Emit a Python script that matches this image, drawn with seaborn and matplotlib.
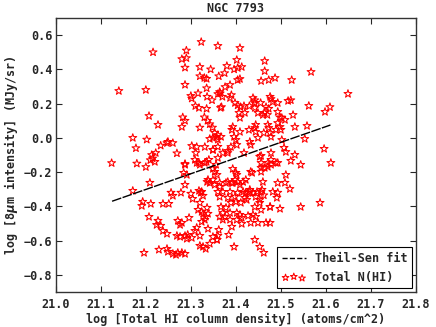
import numpy as np
import pandas as pd
import matplotlib
matplotlib.use('Agg')
import matplotlib.pyplot as plt
import seaborn as sns
from matplotlib.lines import Line2D

# log total HI column density (x) and log 8um intensity (y)
nhi = [
    21.140, 21.216, 21.200, 21.207, 21.227, 21.171, 21.202, 21.178, 21.213, 21.215,
    21.210, 21.233, 21.247, 21.260, 21.269, 21.124, 21.180, 21.200, 21.220, 21.323,
    21.290, 21.280, 21.290, 21.287, 21.287, 21.320, 21.344, 21.360, 21.320, 21.330,
    21.335, 21.300, 21.316, 21.302, 21.335, 21.336, 21.347, 21.360, 21.310, 21.318,
    21.335, 21.320, 21.282, 21.287, 21.280, 21.330, 21.337, 21.342, 21.348, 21.353,
    21.357, 21.360, 21.302, 21.313, 21.311, 21.309, 21.318, 21.335, 21.349, 21.360,
    21.287, 21.409, 21.402, 21.380, 21.396, 21.404, 21.413, 21.375, 21.362, 21.404,
    21.409, 21.464, 21.464, 21.456, 21.473, 21.487, 21.524, 21.567, 21.649, 21.365,
    21.370, 21.387, 21.390, 21.368, 21.366, 21.398, 21.404, 21.410, 21.418, 21.430,
    21.438, 21.442, 21.442, 21.455, 21.467, 21.476, 21.478, 21.482, 21.493, 21.516,
    21.522, 21.562, 21.598, 21.609, 21.407, 21.409, 21.420, 21.464, 21.473, 21.470,
    21.493, 21.498, 21.502, 21.509, 21.527, 21.393, 21.396, 21.409, 21.429, 21.444,
    21.444, 21.471, 21.473, 21.476, 21.478, 21.489, 21.493, 21.498, 21.500, 21.531,
    21.558, 21.360, 21.367, 21.389, 21.382, 21.371, 21.360, 21.431, 21.433, 21.418,
    21.456, 21.478, 21.478, 21.489, 21.502, 21.507, 21.511, 21.531, 21.544, 21.553,
    21.596, 21.611, 21.456, 21.471, 21.478, 21.493, 21.522, 21.433, 21.456, 21.511,
    21.493, 21.509, 21.520, 21.482, 21.493, 21.491, 21.456, 21.453, 21.444, 21.438,
    21.431, 21.587, 21.544, 21.498, 21.476, 21.456, 21.442, 21.438, 21.427, 21.433,
    21.409, 21.402, 21.413, 21.402, 21.387, 21.391, 21.384, 21.362, 21.358, 21.467,
    21.442, 21.453, 21.462, 21.396, 21.371, 21.376, 21.371, 21.378, 21.367, 21.387,
    21.364, 21.371, 21.378, 21.387, 21.393, 21.404, 21.416, 21.404, 21.416, 21.422,
    21.398, 21.382, 21.389, 21.400, 21.411, 21.424, 21.287, 21.291, 21.284, 21.313,
    21.320, 21.331, 21.340, 21.356, 21.209, 21.171, 21.287, 21.256, 21.260, 21.278,
    21.300, 21.304, 21.318, 21.322, 21.327, 21.336, 21.342, 21.349, 21.353, 21.360,
    21.364, 21.193, 21.191, 21.211, 21.238, 21.251, 21.320, 21.316, 21.324, 21.327,
    21.336, 21.338, 21.331, 21.207, 21.227, 21.224, 21.233, 21.238, 21.247, 21.271,
    21.280, 21.296, 21.276, 21.313, 21.309, 21.302, 21.293, 21.269, 21.276, 21.287,
    21.291, 21.320, 21.338, 21.349, 21.360, 21.196, 21.229, 21.247, 21.249, 21.260,
    21.267, 21.271, 21.280, 21.287, 21.320, 21.327, 21.333, 21.342, 21.358, 21.387,
    21.376, 21.364, 21.442, 21.449, 21.460, 21.391, 21.442, 21.462, 21.331, 21.349,
    21.382, 21.402, 21.400, 21.449, 21.453, 21.349, 21.342, 21.364, 21.382, 21.391,
    21.398, 21.409, 21.402, 21.393, 21.400, 21.422, 21.436, 21.456, 21.464, 21.471,
    21.460, 21.458, 21.447, 21.431, 21.427, 21.420, 21.453, 21.462, 21.476, 21.476,
    21.449, 21.444, 21.413, 21.324, 21.333, 21.324, 21.364, 21.349, 21.353, 21.358,
    21.338, 21.249, 21.222,
]
i8 = [
    0.274, 0.500, 0.280, 0.128, 0.076, 0.000, -0.010, -0.060, -0.100, -0.120,
    -0.130, -0.045, -0.030, -0.030, -0.090, -0.147, -0.150, -0.170, -0.140, 0.560,
    0.510, 0.460, 0.466, 0.410, 0.310, 0.414, 0.400, 0.537, 0.360, 0.350,
    0.345, 0.245, 0.260, 0.230, 0.290, 0.240, 0.220, 0.256, 0.186, 0.175,
    0.170, 0.060, 0.120, 0.100, 0.064, 0.120, 0.100, 0.080, 0.060, 0.030,
    0.005, -0.010, -0.047, -0.053, -0.088, -0.128, -0.146, -0.140, -0.070, -0.052,
    -0.152, 0.525, 0.455, 0.420, 0.400, 0.408, 0.414, 0.378, 0.360, 0.338,
    0.344, 0.449, 0.390, 0.332, 0.338, 0.350, 0.338, 0.385, 0.257, 0.260,
    0.240, 0.233, 0.250, 0.180, 0.175, 0.204, 0.190, 0.180, 0.186, 0.186,
    0.233, 0.220, 0.204, 0.204, 0.180, 0.240, 0.227, 0.210, 0.204, 0.216,
    0.220, 0.187, 0.152, 0.180, 0.146, 0.117, 0.146, 0.146, 0.170, 0.134,
    0.152, 0.120, 0.117, 0.105, 0.134, 0.064, 0.006, 0.035, 0.047, 0.076,
    0.035, 0.076, 0.058, 0.029, 0.006, 0.047, 0.087, 0.064, 0.047, 0.064,
    0.070, 0.017, 0.006, -0.053, -0.088, -0.088, -0.117, -0.023, -0.041, -0.088,
    -0.105, -0.088, -0.128, -0.146, -0.012, -0.058, -0.082, -0.099, -0.157, -0.006,
    -0.064, -0.146, -0.146, -0.146, -0.157, -0.146, -0.134, -0.198, -0.198, -0.216,
    -0.263, -0.262, -0.298, -0.315, -0.320, -0.350, -0.315, -0.362, -0.344, -0.320,
    -0.315, -0.379, -0.403, -0.414, -0.403, -0.420, -0.403, -0.449, -0.455, -0.496,
    -0.449, -0.438, -0.467, -0.478, -0.478, -0.519, -0.566, -0.537, -0.595, -0.496,
    -0.595, -0.636, -0.671, -0.636, -0.438, -0.461, -0.478, -0.408, -0.403, -0.438,
    -0.286, -0.315, -0.263, -0.315, -0.263, -0.257, -0.257, -0.321, -0.315, -0.321,
    -0.344, -0.350, -0.379, -0.373, -0.379, -0.362, -0.157, -0.216, -0.204, -0.146,
    -0.157, -0.146, -0.128, -0.157, -0.262, -0.309, -0.274, -0.320, -0.338, -0.320,
    -0.326, -0.356, -0.309, -0.320, -0.338, -0.257, -0.263, -0.245, -0.274, -0.315,
    -0.344, -0.373, -0.397, -0.385, -0.385, -0.385, -0.379, -0.420, -0.432, -0.443,
    -0.408, -0.443, -0.478, -0.461, -0.484, -0.508, -0.513, -0.543, -0.560, -0.484,
    -0.496, -0.467, -0.508, -0.525, -0.543, -0.584, -0.566, -0.572, -0.578, -0.572,
    -0.589, -0.572, -0.531, -0.578, -0.572, -0.671, -0.653, -0.648, -0.665, -0.677,
    -0.683, -0.671, -0.671, -0.677, -0.630, -0.636, -0.648, -0.618, -0.595, 0.309,
    0.297, 0.268, 0.175, 0.146, 0.134, 0.047, 0.058, 0.029, -0.053, -0.070,
    -0.076, -0.041, -0.012, 0.000, -0.110, 0.000, -0.006, -0.263, -0.257, -0.263,
    -0.245, -0.274, -0.216, -0.181, -0.204, -0.245, -0.204, -0.175, -0.175, -0.169,
    -0.257, -0.303, -0.315, -0.303, -0.320, -0.350, -0.379, -0.335, -0.403, -0.496,
    -0.496, -0.461, -0.502, -0.315, -0.460, -0.490, -0.460, -0.181, -0.198, -0.216,
    -0.245, -0.023, -0.088,
]

# Theil-Sen fit line
fit_x = [21.125, 21.61]
fit_slope = 0.9175
fit_y0 = -0.37  # value at fit_x[0]

df = pd.DataFrame({'nhi': nhi, 'i8': i8})
fit = pd.DataFrame({'x': fit_x})
fit['y'] = fit_y0 + fit_slope * (fit['x'] - fit_x[0])

sns.set_style('ticks')
plt.rcParams['font.family'] = ['DejaVu Sans Mono']
plt.rcParams['font.weight'] = 'bold'
plt.rcParams['axes.labelweight'] = 'bold'
plt.rcParams['axes.titleweight'] = 'bold'
plt.rcParams['mathtext.default'] = 'it'

fig = plt.figure(figsize=(4.36, 3.27), dpi=100)
ax = fig.add_axes([0.128, 0.107, 0.826, 0.838])

sns.scatterplot(data=df, x='nhi', y='i8', marker='*', s=36,
                facecolor='none', edgecolor='red', linewidth=0.75, ax=ax, legend=False)
sns.lineplot(data=fit, x='x', y='y', color='black', linewidth=1.0,
             dashes=False, ax=ax, legend=False)
ax.lines[0].set_dashes((7, 1))

ax.set_xlim(21.0, 21.8)
ax.set_ylim(-0.9, 0.7)
ax.set_xticks(np.arange(21.0, 21.81, 0.1))
ax.set_yticks([-0.8, -0.6, -0.4, -0.2, 0.0, 0.2, 0.4, 0.6])
ax.tick_params(direction='in', top=True, right=True, length=4, width=0.8,
               labelsize=8.5)
ax.tick_params(axis='y', pad=2.5)
ax.tick_params(axis='x', pad=4)
for lab in ax.get_xticklabels() + ax.get_yticklabels():
    lab.set_fontweight('bold')
for sp in ax.spines.values():
    sp.set_linewidth(1.0)
    sp.set_color('#333333')

ax.set_xlabel('log [Total HI column density] (atoms/cm^2)', fontsize=8.5, labelpad=2)
ax.set_ylabel(r'log [8$\mu$m intensity] (MJy/sr)', fontsize=8.5, labelpad=3)
ax.set_title('NGC 7793', fontsize=8.5, pad=4)

line_h = Line2D([], [], color='black', linestyle='--', linewidth=1.0)
leg = ax.legend([line_h, ax.collections[0]], ['Theil-Sen fit', 'Total N(HI)'],
                loc='lower right', scatterpoints=3, fontsize=8.5, frameon=True,
                fancybox=False, edgecolor='black', framealpha=1, markerscale=0.85,
                borderaxespad=0.3, borderpad=0.4, handlelength=2.0, handletextpad=0.8)
leg.get_frame().set_linewidth(0.8)
for t in leg.get_texts():
    t.set_fontweight('bold')

fig.savefig('out.png', dpi=100)
